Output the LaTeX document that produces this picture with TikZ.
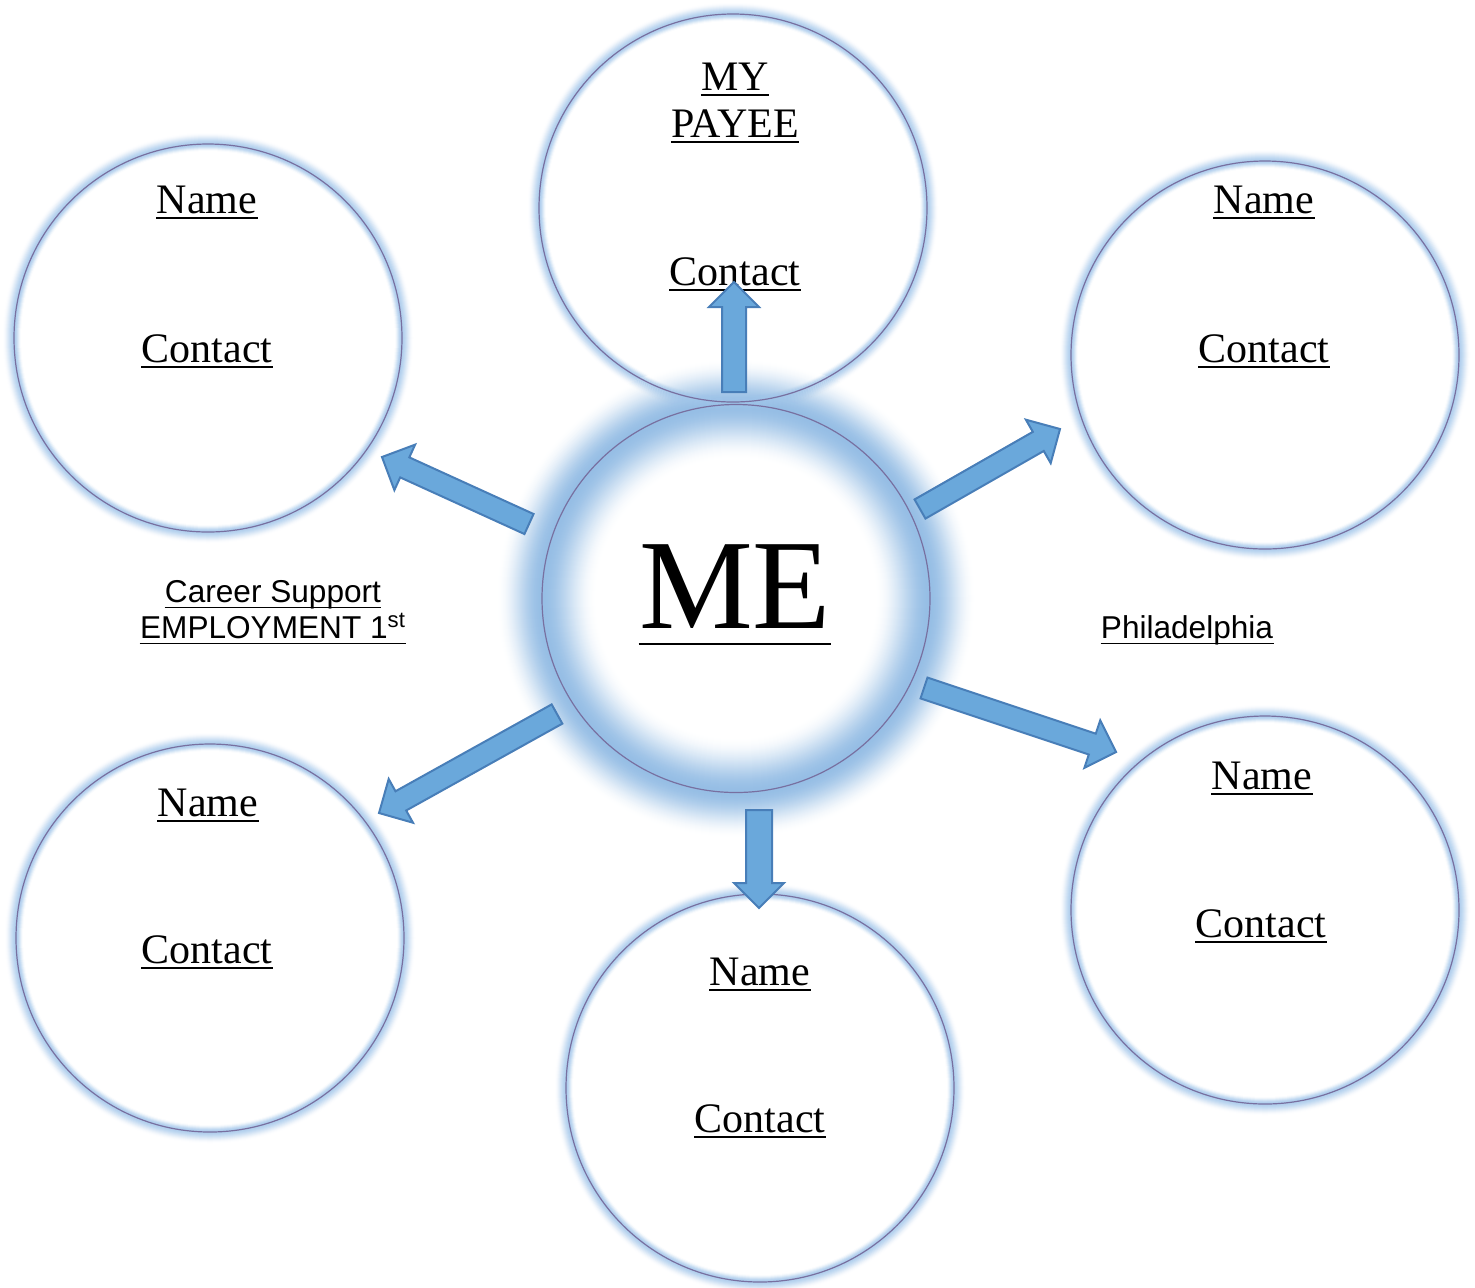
\documentclass[tikz,border=0pt]{standalone}
\usepackage{fontspec}
\setmainfont{Liberation Serif}
\newfontfamily\arialf{Liberation Sans}
\usetikzlibrary{calc}
\definecolor{ringc}{RGB}{120,112,160}
\definecolor{glowc}{RGB}{150,190,229}
\definecolor{sglowc}{RGB}{160,197,234}
\definecolor{arrfill}{RGB}{106,168,219}
\definecolor{arrline}{RGB}{72,126,184}
\tikzset{
  bubble/.style={circle, draw=ringc, line width=0.6pt, inner sep=0pt, minimum size=194pt},
  ul/.style={append after command={([yshift=-#1]\tikzlastnode.base west)
      edge[draw=black, line width=0.75pt] ([yshift=-#1]\tikzlastnode.base east)}},
  ul/.default=2.6pt,
  lbl/.style={font=\fontsize{21pt}{24pt}\selectfont, inner sep=0pt, anchor=base, ul},
  slbl/.style={font=\arialf\fontsize{15.8pt}{18pt}\selectfont, inner sep=0pt, anchor=base, ul=2.8pt},
  arrow shape/.style={draw=arrline, fill=arrfill, line width=1pt, line join=miter}
}
% block arrow from #1 to #2 with shaft half width #3
\newcommand\blockarr[3]{%
  \path ($(#2)!12.5pt!(#1)$) coordinate (hb);
  \draw[arrow shape]
    ($(#1)!#3!90:(#2)$) -- ($(hb)!#3!90:(#2)$) -- ($(hb)!12.5pt!90:(#2)$) -- (#2)
    -- ($(hb)!12.5pt!-90:(#2)$) -- ($(hb)!#3!-90:(#2)$) -- ($(#1)!#3!-90:(#2)$) -- cycle;}
\begin{document}
\begin{tikzpicture}[x=0.5pt,y=-0.5pt]
\fill[white] (0,0) rectangle (1475,1287);
\useasboundingbox (0,0) rectangle (1475,1287);

% circle positions
\coordinate (mec) at (736,598.5);
\coordinate (topc) at (733,208);
\coordinate (tlc) at (208,338);
\coordinate (trc) at (1265,355);
\coordinate (blc) at (210,938);
\coordinate (botc) at (760,1088);
\coordinate (brc) at (1265,910);

% small glows (opaque discs, outside in)
\foreach \c in {topc,tlc,trc,blc,botc,brc}{
  \foreach \r [evaluate=\r as \t using {min(abs(\r-194)/ifthenelse(\r>=194,12,7),1)},
               evaluate=\t as \p using {85*(1-3*\t*\t+2*\t*\t*\t)},
               evaluate=\r as \rr using {\r/2}] in {206,205,...,186}
    \fill[sglowc!\p!white] (\c) circle[radius=\rr pt];
}

% ME glow (opaque discs, outside in)
\foreach \r [evaluate=\r as \t using {min(abs(\r-194)/ifthenelse(\r>=194,46,54),1)},
             evaluate=\t as \p using {100*(1-3*\t*\t+2*\t*\t*\t)},
             evaluate=\r as \rr using {\r/2}] in {240,239,...,140}
  \fill[glowc!\p!white] (mec) circle[radius=\rr pt];

% top circle glow restored where the ME glow covered it (transparent rings)
\begin{scope}
\clip (mec) circle[radius=120pt];
\foreach \r [evaluate=\r as \t using {min(abs(\r-194)/ifthenelse(\r>=194,12,6),1)},
             evaluate=\t as \op using {0.8*(1-3*\t*\t+2*\t*\t*\t)},
             evaluate=\r as \ra using {(\r+0.5)/2},
             evaluate=\r as \rb using {(\r-0.5)/2}] in {206,205,...,188}
  \fill[sglowc, opacity=\op, even odd rule] (topc) circle[radius=\ra pt] circle[radius=\rb pt];
\end{scope}

% circles
\node[bubble] (me) at (mec) {};
\node[bubble] (top) at (topc) {};
\node[bubble] (tl) at (tlc) {};
\node[bubble] (tr) at (trc) {};
\node[bubble] (bl) at (blc) {};
\node[bubble] (bot) at (botc) {};
\node[bubble] (br) at (brc) {};

% texts
\node[font=\fontsize{64pt}{70pt}\selectfont, inner sep=0pt, anchor=base, ul=8pt] (metext) at (735,628) {ME};
\node[lbl] (p1) at (735,90) {MY};
\node[lbl] (p2) at (735,137) {PAYEE};
\node[lbl] (pc) at (735,285) {Contact};
\node[lbl] (n1) at (207,213) {Name};
\node[lbl] (c1) at (207,362) {Contact};
\node[lbl] (n2) at (1264,213) {Name};
\node[lbl] (c2) at (1264,362) {Contact};
\node[lbl] (n3) at (208,816) {Name};
\node[lbl] (c3) at (207,963) {Contact};
\node[lbl] (n4) at (760,985) {Name};
\node[lbl] (c4) at (760,1132) {Contact};
\node[lbl] (n5) at (1262,789) {Name};
\node[lbl] (c5) at (1261,937) {Contact};
\node[slbl] (cs) at (273,602) {Career Support};
\node[slbl] (emp) at (273,638) {EMPLOYMENT 1\textsuperscript{st}};
\node[slbl] (phl) at (1187,638) {Philadelphia};

% arrows
\coordinate (a1s) at (734,392);  \coordinate (a1t) at (734,282);
\coordinate (a2s) at (529,524);  \coordinate (a2t) at (382,457);
\coordinate (a3s) at (920,509);  \coordinate (a3t) at (1060,429);
\coordinate (a4s) at (924,688);  \coordinate (a4t) at (1116,752);
\coordinate (a5s) at (557,714);  \coordinate (a5t) at (379,813);
\coordinate (a6s) at (759,810);  \coordinate (a6t) at (759,908);
\blockarr{a1s}{a1t}{6pt}
\blockarr{a2s}{a2t}{5.5pt}
\blockarr{a3s}{a3t}{5.5pt}
\blockarr{a4s}{a4t}{5.5pt}
\blockarr{a5s}{a5t}{5.5pt}
\blockarr{a6s}{a6t}{6.5pt}
\end{tikzpicture}
\end{document}
